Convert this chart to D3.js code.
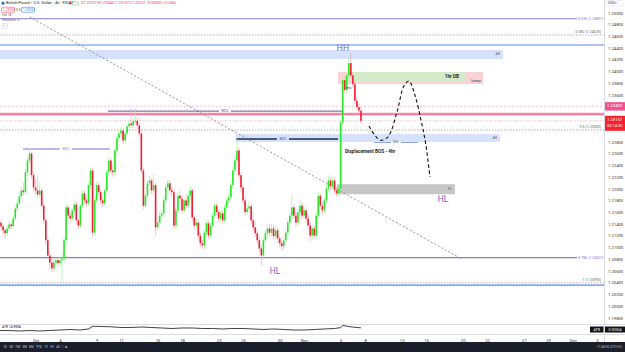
<!DOCTYPE html>
<html>
<head>
<meta charset="utf-8">
<script src="https://cdn.jsdelivr.net/npm/d3@7"></script>
<style>
  html, body { margin: 0; padding: 0; background: #fff; }
  svg { display: block; font-family: Roboto, "Liberation Sans", sans-serif; }
</style>
</head>
<body>
<div id="viscontainer"></div>
<script>
const width = 625;
const height = 352;

// 4h candles, opens are the previous close
const firstOpen = 1.2137;
const closes = [
  1.2142, 1.2136, 1.2129, 1.2124, 1.2132, 1.2139, 1.2136, 1.2149, 1.2166, 1.2175,
  1.2187, 1.2197, 1.2194, 1.2228, 1.2248, 1.2260, 1.2223, 1.2202, 1.2197, 1.2190,
  1.2197, 1.2171, 1.2146, 1.2112, 1.2086, 1.2074, 1.2064, 1.2074, 1.2078, 1.2073,
  1.2078, 1.2081, 1.2112, 1.2168, 1.2154, 1.2149, 1.2163, 1.2173, 1.2146, 1.2137,
  1.2171, 1.2192, 1.2180, 1.2175, 1.2206, 1.2231, 1.2125, 1.2180, 1.2206, 1.2194,
  1.2180, 1.2175, 1.2197, 1.2228, 1.2248, 1.2231, 1.2228, 1.2265, 1.2286, 1.2294,
  1.2299, 1.2282, 1.2294, 1.2306, 1.2311, 1.2308, 1.2315, 1.2316, 1.2308, 1.2294,
  1.2231, 1.2171, 1.2188, 1.2209, 1.2214, 1.2197, 1.2206, 1.2134, 1.2142, 1.2154,
  1.2158, 1.2180, 1.2202, 1.2209, 1.2197, 1.2194, 1.2137, 1.2163, 1.2188, 1.2183,
  1.2163, 1.2180, 1.2171, 1.2188, 1.2197, 1.2151, 1.2137, 1.2142, 1.2120, 1.2107,
  1.2103, 1.2125, 1.2141, 1.2120, 1.2137, 1.2154, 1.2171, 1.2160, 1.2149, 1.2158,
  1.2146, 1.2168, 1.2180, 1.2185, 1.2206, 1.2231, 1.2248, 1.2265, 1.2223, 1.2202,
  1.2180, 1.2160, 1.2166, 1.2170, 1.2146, 1.2134, 1.2124, 1.2112, 1.2098, 1.2086,
  1.2112, 1.2124, 1.2132, 1.2125, 1.2132, 1.2119, 1.2129, 1.2115, 1.2107, 1.2102,
  1.2112, 1.2125, 1.2142, 1.2154, 1.2168, 1.2154, 1.2142, 1.2160, 1.2171, 1.2154,
  1.2163, 1.2149, 1.2137, 1.2120, 1.2132, 1.2120, 1.2154, 1.2188, 1.2171, 1.2163,
  1.2180, 1.2200, 1.2214, 1.2204, 1.2214, 1.2197, 1.2192, 1.2200, 1.2313, 1.2385,
  1.2368, 1.2393, 1.2414, 1.2393, 1.2378, 1.2350, 1.2339, 1.2333, 1.23157
];
const highs = [
  1.2150, 1.2147, 1.2140, 1.2133, 1.2138, 1.2146, 1.2145, 1.2153, 1.2170, 1.2182,
  1.2193, 1.2204, 1.2210, 1.2234, 1.2253, 1.2270, 1.2263, 1.2228, 1.2215, 1.2220,
  1.2210, 1.2202, 1.2176, 1.2150, 1.2117, 1.2092, 1.2080, 1.2080, 1.2085, 1.2083,
  1.2084, 1.2088, 1.2117, 1.2175, 1.2172, 1.2160, 1.2168, 1.2180, 1.2178, 1.2150,
  1.2176, 1.2198, 1.2197, 1.2186, 1.2212, 1.2236, 1.2235, 1.2186, 1.2212, 1.2210,
  1.2198, 1.2186, 1.2202, 1.2233, 1.2254, 1.2253, 1.2240, 1.2270, 1.2291, 1.2300,
  1.2305, 1.2303, 1.2299, 1.2312, 1.2318, 1.2337, 1.2320, 1.2337, 1.2322, 1.2312,
  1.2298, 1.2236, 1.2193, 1.2215, 1.2222, 1.2218, 1.2225, 1.2210, 1.2148, 1.2160,
  1.2165, 1.2186, 1.2208, 1.2217, 1.2214, 1.2204, 1.2199, 1.2168, 1.2194, 1.2196,
  1.2188, 1.2186, 1.2190, 1.2194, 1.2205, 1.2202, 1.2156, 1.2150, 1.2147, 1.2125,
  1.2113, 1.2130, 1.2147, 1.2146, 1.2143, 1.2160, 1.2177, 1.2176, 1.2165, 1.2164,
  1.2163, 1.2174, 1.2186, 1.2192, 1.2212, 1.2237, 1.2254, 1.2287, 1.2270, 1.2228,
  1.2207, 1.2185, 1.2172, 1.2178, 1.2175, 1.2160, 1.2145, 1.2130, 1.2118, 1.2103,
  1.2117, 1.2130, 1.2140, 1.2140, 1.2140, 1.2138, 1.2136, 1.2134, 1.2120, 1.2112,
  1.2118, 1.2131, 1.2148, 1.2160, 1.2190, 1.2174, 1.2160, 1.2166, 1.2180, 1.2177,
  1.2170, 1.2168, 1.2155, 1.2142, 1.2138, 1.2138, 1.2160, 1.2194, 1.2193, 1.2177,
  1.2186, 1.2206, 1.2223, 1.2220, 1.2220, 1.2219, 1.2203, 1.2207, 1.2318, 1.2390,
  1.2392, 1.2398, 1.2427, 1.2432, 1.2398, 1.2383, 1.2356, 1.2345, 1.2340
];
const lows = [
  1.2130, 1.2130, 1.2122, 1.2115, 1.2119, 1.2128, 1.2130, 1.2132, 1.2145, 1.2160,
  1.2171, 1.2183, 1.2188, 1.2190, 1.2222, 1.2243, 1.2217, 1.2195, 1.2190, 1.2183,
  1.2185, 1.2165, 1.2140, 1.2105, 1.2080, 1.2061, 1.2058, 1.2058, 1.2068, 1.2066,
  1.2068, 1.2039, 1.2076, 1.2108, 1.2148, 1.2140, 1.2144, 1.2158, 1.2140, 1.2130,
  1.2132, 1.2166, 1.2174, 1.2168, 1.2170, 1.2200, 1.2118, 1.2120, 1.2175, 1.2188,
  1.2174, 1.2168, 1.2170, 1.2192, 1.2222, 1.2225, 1.2220, 1.2223, 1.2260, 1.2280,
  1.2288, 1.2276, 1.2277, 1.2290, 1.2301, 1.2302, 1.2303, 1.2310, 1.2302, 1.2288,
  1.2225, 1.2165, 1.2166, 1.2183, 1.2204, 1.2190, 1.2192, 1.2120, 1.2128, 1.2137,
  1.2148, 1.2153, 1.2176, 1.2197, 1.2190, 1.2186, 1.2130, 1.2131, 1.2158, 1.2176,
  1.2156, 1.2158, 1.2165, 1.2166, 1.2182, 1.2145, 1.2130, 1.2131, 1.2114, 1.2100,
  1.2096, 1.2098, 1.2120, 1.2114, 1.2115, 1.2132, 1.2149, 1.2154, 1.2142, 1.2143,
  1.2140, 1.2141, 1.2163, 1.2175, 1.2180, 1.2200, 1.2225, 1.2243, 1.2217, 1.2195,
  1.2174, 1.2153, 1.2155, 1.2160, 1.2140, 1.2128, 1.2118, 1.2106, 1.2092, 1.2069,
  1.2080, 1.2106, 1.2118, 1.2118, 1.2119, 1.2113, 1.2113, 1.2108, 1.2100, 1.2095,
  1.2096, 1.2107, 1.2120, 1.2137, 1.2149, 1.2148, 1.2136, 1.2137, 1.2155, 1.2148,
  1.2148, 1.2143, 1.2130, 1.2110, 1.2115, 1.2114, 1.2115, 1.2149, 1.2165, 1.2156,
  1.2158, 1.2175, 1.2195, 1.2198, 1.2199, 1.2191, 1.2186, 1.2187, 1.2195, 1.2308,
  1.2362, 1.2362, 1.2388, 1.2388, 1.2372, 1.2344, 1.2334, 1.2327, 1.2310
];

// ATR(14) read at a few candle positions
const atrIndex = [0, 5, 10, 15, 20, 25, 30, 35, 40, 44, 46, 50, 55, 60, 65, 70, 75, 80, 85, 90,
  95, 100, 105, 110, 115, 120, 125, 130, 135, 140, 145, 150, 155, 160, 165, 168, 169, 172, 175, 178];
const atrValues = [0.00279, 0.00279, 0.00265, 0.00279, 0.00265, 0.00279, 0.00293, 0.00307, 0.00293, 0.00322,
  0.00398, 0.00392, 0.00384, 0.00364, 0.00364, 0.00378, 0.00364, 0.0035, 0.00336, 0.0035,
  0.0035, 0.00336, 0.00336, 0.00322, 0.00336, 0.00336, 0.00322, 0.00307, 0.00322, 0.00307,
  0.00293, 0.00293, 0.00307, 0.00322, 0.00336, 0.0036, 0.0042, 0.0039, 0.0037, 0.00354];

// time axis: trading day number (6 candles a day), label
const dayTicks = [3, 5, 8, 10, 13, 15, 18, 20, 23, 25, 28, 30, 33, 35, 38, 40, 43, 45, 47, 49];
const dayLabels = ["Oct", "4", "9", "11", "16", "18", "23", "25", "30", "Nov",
  "6", "8", "13", "15", "20", "22", "27", "29", "Dec", "5"];

const priceTicks = [1.25, 1.248, 1.246, 1.244, 1.242, 1.24, 1.238, 1.236, 1.228, 1.226,
  1.224, 1.222, 1.22, 1.218, 1.216, 1.214, 1.212, 1.21, 1.208, 1.206, 1.204, 1.202, 1.2, 1.198];

// fib retracement levels
const fibRatios = ["0.236", "0.382", "0.5", "0.786", "1"];
const fibPrices = [1.24897, 1.2462, 1.23, 1.20823, 1.20395];
// range high / low lines
const rangeLines = [1.24449, 1.20357];

// zones: start/end candle index, top/bottom price
const zoneNames = ["4H high", "4H bos", "sweep", "1hr OB", "FL"];
const zoneStart = [-2, 116.5, 166.7, 171.6, 166.2];
const zoneEnd = [247.8, 246.3, 238, 229.6, 224.2];
const zoneTop = [1.24364, 1.22932, 1.23989, 1.23989, 1.22076];
const zoneBottom = [1.24211, 1.22796, 1.23784, 1.23818, 1.21905];

// structure lines
const bosNames = ["early", "upper", "lower"];
const bosStart = [11.8, 53.6, 116.5];
const bosEnd = [54.6, 169.1, 166.7];
const bosPrice = [1.22675, 1.23322, 1.22846];
const bosLabelAt = [32.9, 111.1, 139.6];

const sslStart = 184.4, sslEnd = 206, sslPrice = 1.22787;

const prevPrice = 1.23403;
const markedPrice = 1.23271;
const lastPrice = 1.23157;

const trendIdx = [15, 227.5];
const trendPrice = [1.2493, 1.2080];

// projected path
const projIdx = [181.9, 187.3, 191.2, 195.7, 199.1, 201.6, 204.5, 207.5, 209.9, 211.9];
const projPrice = [1.23068, 1.22829, 1.2288, 1.23307, 1.2375, 1.23835, 1.23597, 1.23171, 1.22744, 1.22199];

const swingText = ["HH", "HL", "HL"];
const swingIdx = [169.1, 218.3, 135.7];
const swingPrice = [1.24379, 1.21803, 1.20576];

const plotRight = 604;
const mainBottom = 323;
const purple = "#7e62c8";

const svg = d3.select("#viscontainer")
  .append("svg")
  .attr("width", width)
  .attr("height", height)
  .style("background", "#ffffff");

const x = d3.scaleLinear().domain([0, 178]).range([-1, 361]);
const y = d3.scaleLinear().domain([1.198, 1.25]).range([317.7, 12.7]);
const yAtr = d3.scaleLinear().domain([0.0022, 0.0044]).range([332.6, 324.8]);

svg.append("defs").append("clipPath").attr("id", "main-clip")
  .append("rect").attr("x", 0).attr("y", 0).attr("width", plotRight).attr("height", mainBottom);

const main = svg.append("g").attr("clip-path", "url(#main-clip)");

// zones
const zoneFill = { "4H high": "#d6e1fb", "4H bos": "#d6e1fb", "sweep": "#fbd3d7", "1hr OB": "#d3ebc8", "FL": "#c6c6c6" };
main.selectAll("rect.zone")
  .data(zoneNames)
  .join("rect")
  .attr("class", "zone")
  .attr("x", (d, k) => x(zoneStart[k]))
  .attr("width", (d, k) => x(zoneEnd[k]) - x(zoneStart[k]))
  .attr("y", (d, k) => y(zoneTop[k]))
  .attr("height", (d, k) => y(zoneBottom[k]) - y(zoneTop[k]))
  .attr("fill", d => zoneFill[d]);

// horizontal levels
fibRatios.forEach((r, k) => {
  const py = y(fibPrices[k]);
  const solid = r === "0.236" || r === "0.786";
  main.append("line")
    .attr("x1", 0).attr("x2", solid ? 577 : plotRight)
    .attr("y1", py).attr("y2", py)
    .attr("stroke", solid ? "#8c78d4" : "#9a9a9a")
    .attr("stroke-width", solid ? 1.2 : 0.8)
    .attr("stroke-dasharray", solid ? null : "1.5,1.5");
  main.append("text")
    .attr("x", solid ? 578 : 601)
    .attr("y", solid ? py : py - 2.5)
    .attr("text-anchor", solid ? "start" : "end")
    .attr("dominant-baseline", "middle")
    .attr("font-size", 3.6)
    .attr("fill", solid ? "#8c78d4" : "#666")
    .text(`${r} (${fibPrices[k].toFixed(5)})`);
});

rangeLines.forEach(p => {
  main.append("line")
    .attr("x1", 0).attr("x2", plotRight)
    .attr("y1", y(p)).attr("y2", y(p))
    .attr("stroke", "#5b8ae8").attr("stroke-width", 1.2);
});

main.append("line")
  .attr("x1", 0).attr("x2", plotRight)
  .attr("y1", y(prevPrice)).attr("y2", y(prevPrice))
  .attr("stroke", "#f6b3c8").attr("stroke-width", 0.8).attr("stroke-dasharray", "2,2");
main.append("line")
  .attr("x1", 0).attr("x2", plotRight)
  .attr("y1", y(markedPrice)).attr("y2", y(markedPrice))
  .attr("stroke", "#f9c4d4").attr("stroke-width", 3);
main.append("line")
  .attr("x1", 0).attr("x2", plotRight)
  .attr("y1", y(markedPrice)).attr("y2", y(markedPrice))
  .attr("stroke", "#ee5a8a").attr("stroke-width", 1.2);
main.append("line")
  .attr("x1", 0).attr("x2", plotRight)
  .attr("y1", y(lastPrice)).attr("y2", y(lastPrice))
  .attr("stroke", "#f59aa6").attr("stroke-width", 0.8).attr("stroke-dasharray", "1,1.5");

// trend line
main.append("line")
  .attr("x1", x(trendIdx[0])).attr("y1", y(trendPrice[0]))
  .attr("x2", x(trendIdx[1])).attr("y2", y(trendPrice[1]))
  .attr("stroke", "#8a8a8a").attr("stroke-width", 0.9).attr("stroke-dasharray", "2,2");

// structure lines
const bosStyle = {
  early: { stroke: "#a89ee6", w: 1.4, text: "#8c80d8" },
  upper: { stroke: "#5e52a8", w: 1, text: "#5e52a8" },
  lower: { stroke: "#4d5a78", w: 2, text: "#4d5a78" }
};
bosNames.forEach((n, k) => {
  const s = bosStyle[n];
  const py = y(bosPrice[k]);
  const lx = x(bosLabelAt[k]);
  main.append("line").attr("x1", x(bosStart[k])).attr("x2", lx - 6)
    .attr("y1", py).attr("y2", py).attr("stroke", s.stroke).attr("stroke-width", s.w);
  main.append("line").attr("x1", lx + 6).attr("x2", x(bosEnd[k]))
    .attr("y1", py).attr("y2", py).attr("stroke", s.stroke).attr("stroke-width", s.w);
  main.append("text").attr("x", lx).attr("y", py)
    .attr("text-anchor", "middle").attr("dominant-baseline", "middle")
    .attr("font-size", 3.6).attr("fill", s.text).text("BOS");
});

const sslMid = (sslStart + sslEnd) / 2;
main.append("line").attr("x1", x(sslStart)).attr("x2", x(sslMid) - 5)
  .attr("y1", y(sslPrice)).attr("y2", y(sslPrice)).attr("stroke", "#8fa9e6").attr("stroke-width", 1);
main.append("line").attr("x1", x(sslMid) + 5).attr("x2", x(sslEnd))
  .attr("y1", y(sslPrice)).attr("y2", y(sslPrice)).attr("stroke", "#8fa9e6").attr("stroke-width", 1);
main.append("text").attr("x", x(sslMid)).attr("y", y(sslPrice))
  .attr("text-anchor", "middle").attr("dominant-baseline", "middle")
  .attr("font-size", 3.4).attr("fill", "#555").text("SSL");

// candles
const candles = closes.map((c, i) => ({
  i,
  open: i === 0 ? firstOpen : closes[i - 1],
  close: c,
  high: highs[i],
  low: lows[i]
}));
const up = "#27e627";
const down = "#f21d31";

main.selectAll("line.wick")
  .data(candles)
  .join("line")
  .attr("class", "wick")
  .attr("x1", d => x(d.i)).attr("x2", d => x(d.i))
  .attr("y1", d => y(d.high)).attr("y2", d => y(d.low))
  .attr("stroke", d => d.close >= d.open ? "#9ff09f" : "#f6a9b1")
  .attr("stroke-width", 0.7);

main.selectAll("rect.body")
  .data(candles)
  .join("rect")
  .attr("class", "body")
  .attr("x", d => x(d.i) - 0.8)
  .attr("width", 1.6)
  .attr("y", d => y(Math.max(d.open, d.close)))
  .attr("height", d => Math.max(0.8, Math.abs(y(d.open) - y(d.close))))
  .attr("fill", d => d.close >= d.open ? up : down);

// zone labels
const zoneLabel = { "4H high": "4H", "4H bos": "4H", "FL": "FL" };
zoneNames.forEach((n, k) => {
  if (!zoneLabel[n]) return;
  main.append("text")
    .attr("x", x(zoneEnd[k]) - 3)
    .attr("y", (y(zoneTop[k]) + y(zoneBottom[k])) / 2)
    .attr("text-anchor", "end").attr("dominant-baseline", "middle")
    .attr("font-size", 3.4).attr("fill", "#555").text(zoneLabel[n]);
});
main.append("text")
  .attr("x", x(229.6) - 7).attr("y", (y(1.23989) + y(1.23818)) / 2)
  .attr("text-anchor", "end").attr("dominant-baseline", "middle")
  .attr("font-size", 4.6).attr("font-weight", 700).attr("fill", "#222").text("1hr OB");
main.append("text")
  .attr("x", x(238) - 2).attr("y", y(1.2384))
  .attr("text-anchor", "end").attr("dominant-baseline", "middle")
  .attr("font-size", 3.4).attr("fill", "#444").text("Sweep");
main.append("text")
  .attr("x", x(170.6)).attr("y", y(1.2372))
  .attr("dominant-baseline", "middle")
  .attr("font-size", 3).attr("fill", "#333").text("Imb");

main.append("text")
  .attr("x", x(170.1)).attr("y", y(1.22623))
  .attr("dominant-baseline", "middle")
  .attr("font-size", 4.7).attr("font-weight", 700).attr("fill", "#1e1e1e")
  .text("Displacement BOS - 4hr");

swingText.forEach((t, k) => {
  main.append("text")
    .attr("x", x(swingIdx[k])).attr("y", y(swingPrice[k]))
    .attr("text-anchor", "middle").attr("dominant-baseline", "middle")
    .attr("font-size", 8.5).attr("fill", purple).text(t);
});

// projection
main.append("path")
  .datum(projIdx.map((v, k) => [x(v), y(projPrice[k])]))
  .attr("d", d3.line().curve(d3.curveCatmullRom.alpha(0.5)))
  .attr("fill", "none")
  .attr("stroke", "#111")
  .attr("stroke-width", 1.1)
  .attr("stroke-dasharray", "3.5,2.5");

// panes and borders
svg.append("line").attr("x1", plotRight + 0.5).attr("x2", plotRight + 0.5).attr("y1", 0).attr("y2", 342)
  .attr("stroke", "#d9dce3").attr("stroke-width", 1);
svg.append("line").attr("x1", 0).attr("x2", width).attr("y1", 324.5).attr("y2", 324.5)
  .attr("stroke", "#d9dce3").attr("stroke-width", 1);
svg.append("line").attr("x1", 0).attr("x2", width).attr("y1", 334.5).attr("y2", 334.5)
  .attr("stroke", "#d9dce3").attr("stroke-width", 1);

// ATR pane
svg.append("path")
  .datum(atrIndex.map((v, k) => [x(v), yAtr(atrValues[k])]))
  .attr("d", d3.line())
  .attr("fill", "none")
  .attr("stroke", "#111")
  .attr("stroke-width", 0.8);
svg.append("text").attr("x", 2).attr("y", 327.6).attr("dominant-baseline", "middle")
  .attr("font-size", 3.4).attr("fill", "#222").text("ATR 14 RMA");
svg.append("rect").attr("x", 590).attr("y", 326.5).attr("width", 13.5).attr("height", 6).attr("fill", "#131313");
svg.append("text").attr("x", 596.7).attr("y", 329.6).attr("text-anchor", "middle").attr("dominant-baseline", "middle")
  .attr("font-size", 3.6).attr("fill", "#fff").text("ATR");
svg.append("rect").attr("x", 605).attr("y", 326.5).attr("width", 20).attr("height", 6).attr("fill", "#131313");
svg.append("text").attr("x", 615).attr("y", 329.6).attr("text-anchor", "middle").attr("dominant-baseline", "middle")
  .attr("font-size", 3.6).attr("fill", "#fff").text(atrValues[atrValues.length - 1].toFixed(5));

// price axis
const yAxis = svg.append("g")
  .attr("transform", `translate(${plotRight + 3},0)`)
  .call(d3.axisRight(y).tickValues(priceTicks).tickFormat(d3.format(".5f")).tickSize(0));
yAxis.select(".domain").remove();
yAxis.selectAll("text").attr("font-size", 4.2).attr("fill", "#333").attr("font-family", "Roboto, sans-serif").attr("x", 1);

svg.append("rect").attr("x", 606).attr("y", 0.5).attr("width", 17).attr("height", 5.5)
  .attr("fill", "#fff").attr("stroke", "#e0e3eb").attr("stroke-width", 0.5);
svg.append("text").attr("x", 608).attr("y", 3.3).attr("dominant-baseline", "middle")
  .attr("font-size", 3.4).attr("fill", "#333").text("USD ▾");

// price labels
svg.append("rect").attr("x", 605).attr("y", y(prevPrice) - 4.2).attr("width", 20).attr("height", 8.4).attr("fill", "#f2538f");
svg.append("text").attr("x", 607).attr("y", y(prevPrice)).attr("dominant-baseline", "middle")
  .attr("font-size", 4.2).attr("fill", "#fff").text(prevPrice.toFixed(5));
svg.append("rect").attr("x", 605).attr("y", y(lastPrice) - 5).attr("width", 20).attr("height", 15).attr("fill", "#f7202f");
svg.append("text").attr("x", 607).attr("y", y(lastPrice) - 0.5).attr("dominant-baseline", "middle")
  .attr("font-size", 4.2).attr("fill", "#fff").text(lastPrice.toFixed(5));
svg.append("text").attr("x", 607).attr("y", y(lastPrice) + 5.5).attr("dominant-baseline", "middle")
  .attr("font-size", 4).attr("fill", "#fff").text("00:14:30");

// time axis
const xAxis = svg.append("g")
  .attr("transform", "translate(0,336)")
  .call(d3.axisBottom(x).tickValues(dayTicks.map(d => d * 6)).tickFormat((d, k) => dayLabels[k]).tickSize(0));
xAxis.select(".domain").remove();
xAxis.selectAll("text").attr("font-size", 4.2).attr("fill", "#333").attr("font-family", "Roboto, sans-serif").attr("dy", "0.6em");

// bottom toolbar
svg.append("rect").attr("x", 0).attr("y", 342).attr("width", width).attr("height", 10).attr("fill", "#1b1f2b");
svg.append("text").attr("x", 3).attr("y", 347.2).attr("dominant-baseline", "middle")
  .attr("font-size", 3.2).attr("fill", "#c5c9d3").attr("word-spacing", 1.5)
  .text("1D 5D 1M 3M 6M YTD 1Y 5Y All  |  ⧉");
svg.append("text").attr("x", 622).attr("y", 347.2).attr("text-anchor", "end").attr("dominant-baseline", "middle")
  .attr("font-size", 3.2).attr("fill", "#c5c9d3").text("11:45:30 (UTC+2)");

// legend
const lg = svg.append("g").attr("font-size", 4).attr("dominant-baseline", "middle");
lg.append("circle").attr("cx", 3).attr("cy", 3.2).attr("r", 1.6).attr("fill", "#2f6fd8");
lg.append("text").attr("x", 6).attr("y", 3.4).attr("fill", "#222").text("British Pound / U.S. Dollar · 4h · FXCM");
lg.append("circle").attr("cx", 70).attr("cy", 3.2).attr("r", 1.2).attr("fill", "#f23645");
lg.append("rect").attr("x", 72.5).attr("y", 1.4).attr("width", 6).attr("height", 3.8).attr("rx", 0.8)
  .attr("fill", "#e6f4e6").attr("stroke", "#7bc67b").attr("stroke-width", 0.4);
lg.append("text").attr("x", 81).attr("y", 3.4).attr("fill", "#f23645").attr("font-size", 3.6)
  .text("O1.23207 H1.23344 L1.23157 C1.23157 −0.00050 (−0.04%)");
lg.append("rect").attr("x", 1.5).attr("y", 7.3).attr("width", 13).attr("height", 5).attr("rx", 0.8)
  .attr("fill", "#fff").attr("stroke", "#f23645").attr("stroke-width", 0.5);
lg.append("text").attr("x", 2.7).attr("y", 9.9).attr("fill", "#f23645").attr("font-size", 3.4).text(lastPrice.toFixed(5));
lg.append("text").attr("x", 16).attr("y", 9.9).attr("fill", "#555").attr("font-size", 3.4).text("0.0");
lg.append("rect").attr("x", 21.5).attr("y", 7.3).attr("width", 13).attr("height", 5).attr("rx", 0.8)
  .attr("fill", "#fff").attr("stroke", "#2f6fd8").attr("stroke-width", 0.5);
lg.append("text").attr("x", 22.7).attr("y", 9.9).attr("fill", "#2f6fd8").attr("font-size", 3.4).text("1.23167");
lg.append("text").attr("x", 2).attr("y", 15.2).attr("fill", "#666").attr("font-size", 3.4).text("Vol  18");
lg.append("text").attr("x", 2).attr("y", 20.4).attr("fill", "#666").attr("font-size", 3.4).text("Sessions  ⊙");
lg.append("rect").attr("x", 2).attr("y", 23.5).attr("width", 5.5).attr("height", 4.5).attr("rx", 0.6)
  .attr("fill", "#fff").attr("stroke", "#bbb").attr("stroke-width", 0.4);
lg.append("text").attr("x", 3.2).attr("y", 26).attr("fill", "#666").attr("font-size", 3).text("^");
</script>
</body>
</html>
